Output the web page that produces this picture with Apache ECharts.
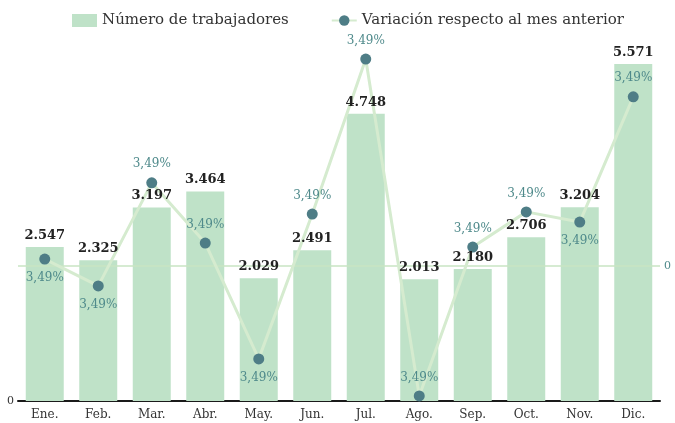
<!DOCTYPE html>
<html>
<head>
<meta charset="utf-8">
<script src="https://cdn.jsdelivr.net/npm/echarts@6/dist/echarts.min.js"></script>
<style>
  html, body { margin: 0; padding: 0; background: #fff; }
  #chart { width: 675px; height: 423px; }
</style>
</head>
<body>
<div id="chart"></div>
<script>
const months = ['Ene.', 'Feb.', 'Mar.', 'Abr.', 'May.', 'Jun.', 'Jul.', 'Ago.', 'Sep.', 'Oct.', 'Nov.', 'Dic.']
const workers = [2547, 2325, 3197, 3464, 2029, 2491, 4748, 2013, 2180, 2706, 3204, 5571]
// variation (line) values, read from the point positions against the right axis
const variation = [0.19, -0.55, 2.29, 0.63, -2.56, 1.43, 5.70, -3.58, 0.52, 1.49, 1.21, 4.66]
const variationLabels = ['3,49%', '3,49%', '3,49%', '3,49%', '3,49%', '3,49%', '3,49%', '3,49%', '3,49%', '3,49%', '3,49%', '3,49%']
const labelPos = ['bottom', 'bottom', 'top', 'top', 'bottom', 'top', 'top', 'top', 'top', 'top', 'bottom', 'top']

const font = 'DejaVu Serif'
const chart = echarts.init(document.getElementById('chart'))

const fmtThousands = p => p.value.toString().replace(/\B(?=(\d{3})+(?!\d))/g, '.')

chart.setOption({
  animation: false,
  textStyle: { fontFamily: font },
  legend: {
    top: 8,
    left: 67,
    itemGap: 42,
    itemWidth: 25,
    itemHeight: 13,
    textStyle: { fontFamily: font, fontSize: 15, color: '#333' },
    data: [
      { name: 'Número de trabajadores', icon: 'rect' },
      { name: 'Variación respecto al mes anterior' }
    ]
  },
  grid: { left: 18, right: 15, top: 38, bottom: 22, containLabel: false },
  xAxis: {
    type: 'category',
    data: months,
    axisTick: { show: false },
    axisLine: { lineStyle: { color: '#1a1a1a', width: 2 } },
    axisLabel: { fontFamily: font, fontSize: 12, color: '#333', margin: 8 }
  },
  yAxis: [
    {
      type: 'value',
      min: 0,
      max: 6000,
      interval: 6000,
      splitLine: { show: false },
      axisLine: { show: false },
      axisTick: { show: false },
      axisLabel: {
        fontFamily: font, fontSize: 11, color: '#333', margin: 4,
        formatter: v => (v === 0 ? '0' : '')
      }
    },
    {
      type: 'value',
      min: -3.72,
      max: 6.28,
      splitLine: { show: false },
      axisLine: { show: false },
      axisTick: { show: false },
      axisLabel: {
        customValues: [0],
        fontFamily: font, fontSize: 11, color: '#4f8a8b', margin: 4,
        formatter: v => (v === 0 ? '0' : '')
      }
    }
  ],
  series: [
    {
      name: 'Número de trabajadores',
      type: 'bar',
      data: workers,
      barCategoryGap: '29%',
      itemStyle: { color: '#bfe2c8' },
      z: 2
    },
    {
      name: 'Variación respecto al mes anterior',
      type: 'line',
      yAxisIndex: 1,
      z: 5,
      data: variation.map((v, i) => ({
        value: v,
        label: { position: labelPos[i] }
      })),
      symbol: 'circle',
      symbolSize: 11,
      lineStyle: { color: '#d5ebcf', width: 3 },
      itemStyle: { color: '#4e7d86' },
      label: {
        show: true,
        distance: 7,
        fontFamily: font,
        fontSize: 12,
        color: '#4f8a8b',
        formatter: p => variationLabels[p.dataIndex]
      },
      markLine: {
        silent: true,
        symbol: 'none',
        label: { show: false },
        lineStyle: { color: '#c9e4c3', width: 1.5, type: 'solid' },
        data: [{ yAxis: 0 }]
      }
    },
    {
      // transparent copy of the bars that only carries the value labels, drawn above the line
      type: 'bar',
      data: workers,
      barGap: '-100%',
      barCategoryGap: '29%',
      itemStyle: { color: 'rgba(0,0,0,0)' },
      silent: true,
      z: 10,
      label: {
        show: true,
        position: 'top',
        distance: 5,
        fontFamily: font,
        fontSize: 13,
        fontWeight: 'bold',
        color: '#222',
        formatter: fmtThousands
      }
    }
  ]
})
</script>
</body>
</html>
